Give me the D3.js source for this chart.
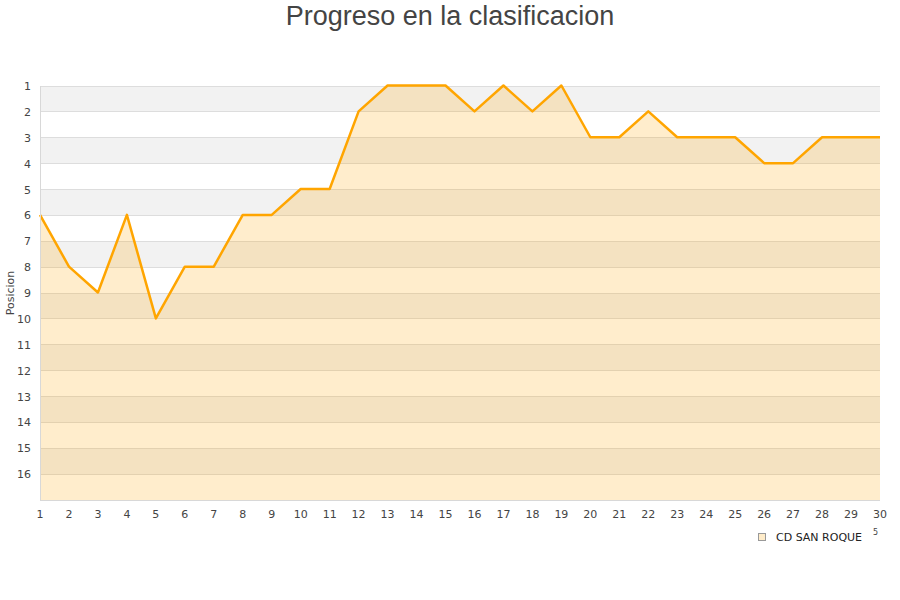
<!DOCTYPE html>
<html><head><meta charset="utf-8">
<script src="https://cdn.jsdelivr.net/npm/d3@7"></script>
<style>body{margin:0;background:#fff}svg{display:block}</style>
</head><body>
<svg id="c" width="900" height="600"></svg>
<script>
const title = "Progreso en la clasificacion";
const yLabel = "Posicion";
const seriesName = "CD SAN ROQUE";
const jornadas = d3.range(1, 31);
const posiciones = [6,8,9,6,10,8,8,6,6,5,5,2,1,1,1,2,1,2,1,3,3,2,3,3,3,4,4,3,3,3];
const yTicks = d3.range(1, 17);

const svg = d3.select("#c");
const L = 40, R = 880, T = 86, B = 500;
const x = d3.scaleLinear().domain([1, 30]).range([L, R]);
const y = d3.scaleLinear().domain([1, 17]).range([T, B]);

svg.append("text").attr("x", 450).attr("y", 25).attr("text-anchor", "middle")
  .attr("font-family", "Liberation Sans, Arial, sans-serif").attr("font-size", 27)
  .attr("fill", "#444").text(title);

// alternating bands
const bands = d3.range(1, 17);
svg.append("g").selectAll("rect").data(bands).join("rect")
  .attr("x", L).attr("width", R - L)
  .attr("y", d => y(d)).attr("height", d => y(d + 1) - y(d))
  .attr("fill", d => d % 2 === 1 ? "#f2f2f2" : "#ffffff");

// grid lines
svg.append("g").selectAll("line").data(yTicks).join("line")
  .attr("x1", L).attr("x2", R).attr("y1", d => y(d)).attr("y2", d => y(d))
  .attr("stroke", "#dddddd").attr("stroke-width", 1).attr("shape-rendering", "crispEdges");

const data = jornadas.map((j, i) => ({ j, p: posiciones[i] }));

// area
svg.append("path").datum(data)
  .attr("d", d3.area().x(d => x(d.j)).y0(B).y1(d => y(d.p)))
  .attr("fill", "#ffa500").attr("fill-opacity", 0.2);

// line
svg.append("path").datum(data)
  .attr("d", d3.line().x(d => x(d.j)).y(d => y(d.p) - 0.5))
  .attr("fill", "none").attr("stroke", "#ffa500").attr("stroke-width", 2.5)
  .attr("stroke-linejoin", "round");

// axis lines
svg.append("line").attr("x1", L).attr("x2", L).attr("y1", T).attr("y2", B)
  .attr("stroke", "#d8d8d8").attr("shape-rendering", "crispEdges");
svg.append("line").attr("x1", L).attr("x2", R).attr("y1", B).attr("y2", B)
  .attr("stroke", "#d8d8d8").attr("shape-rendering", "crispEdges");

const tf = "DejaVu Sans, sans-serif";
svg.append("g").selectAll("text").data(yTicks).join("text")
  .attr("x", 31).attr("y", d => y(d) + 4).attr("text-anchor", "end")
  .attr("font-family", tf).attr("font-size", 11).attr("fill", "#444").text(d => d);

svg.append("g").selectAll("text").data(jornadas).join("text")
  .attr("x", d => x(d)).attr("y", 518).attr("text-anchor", "middle")
  .attr("font-family", tf).attr("font-size", 11).attr("fill", "#444").text(d => d);

svg.append("text").attr("transform", "translate(14,293) rotate(-90)")
  .attr("text-anchor", "middle").attr("font-family", tf).attr("font-size", 11)
  .attr("fill", "#444").text(yLabel);

// legend
svg.append("rect").attr("x", 758.5).attr("y", 533.5).attr("width", 7).attr("height", 7)
  .attr("fill", "#ffecc9").attr("stroke", "#999");
svg.append("text").attr("x", 776).attr("y", 541).attr("font-family", tf)
  .attr("font-size", 11).attr("fill", "#222").text(seriesName);
svg.append("text").attr("x", 873).attr("y", 535).attr("font-family", tf)
  .attr("font-size", 8).attr("fill", "#444").text("5");
</script>
</body></html>
